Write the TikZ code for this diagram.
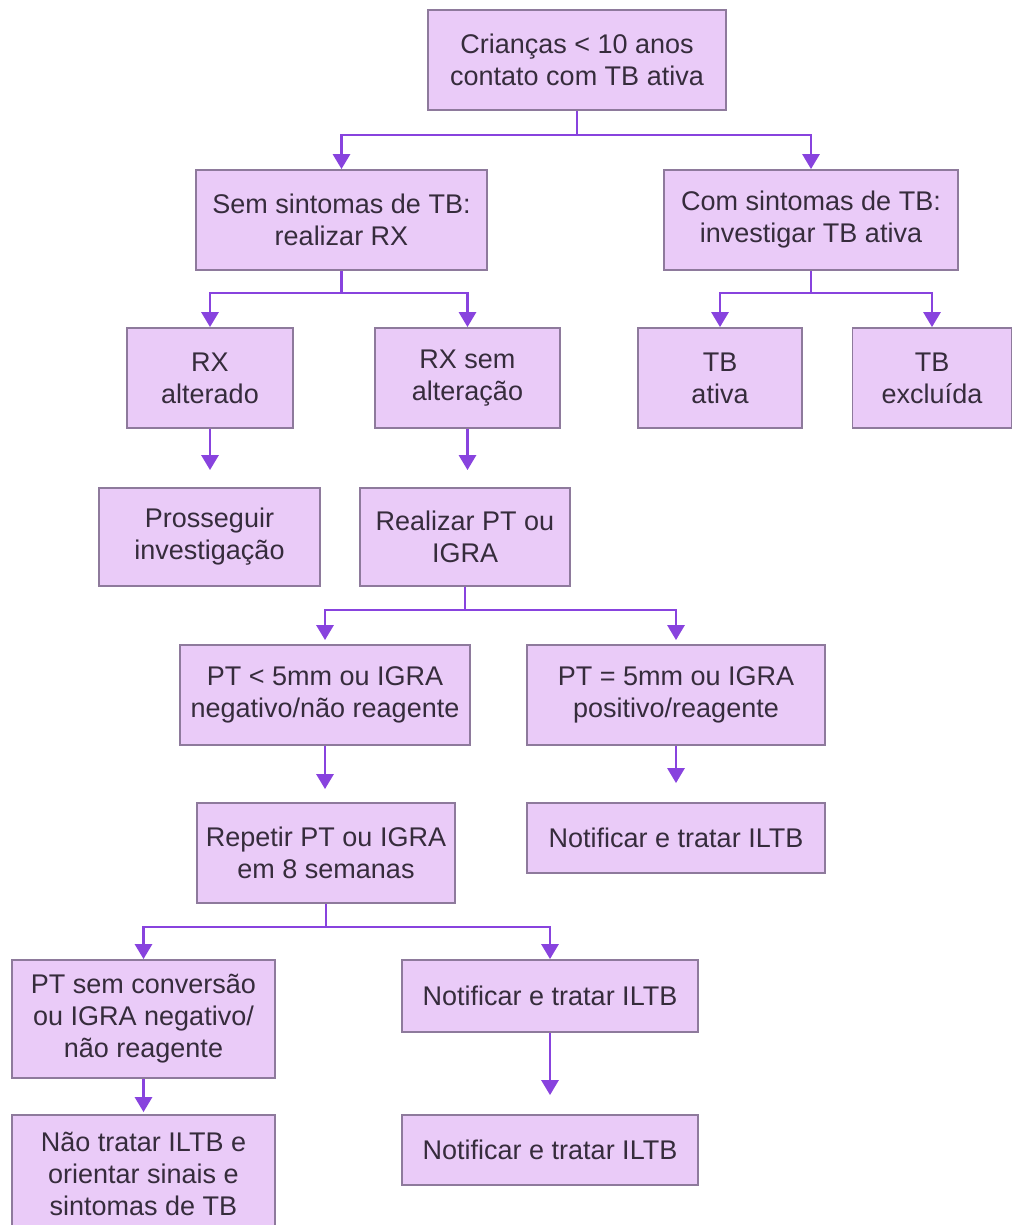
\documentclass[tikz,border=0pt]{standalone}
\usepackage{fontspec}
\setmainfont{Liberation Sans}
\usetikzlibrary{arrows.meta}
\definecolor{boxfill}{HTML}{EACBF8}
\definecolor{boxline}{HTML}{8E7A9C}
\definecolor{arrcol}{HTML}{8843DE}
\definecolor{txtcol}{HTML}{362C3C}
\begin{document}
\begin{tikzpicture}[x=1pt,y=-1pt,
  box/.style={draw=boxline, line width=1.8pt, fill=boxfill, align=center,
    text=txtcol, inner sep=0pt, font=\fontsize{27}{32}\selectfont},
  arr/.style={draw=arrcol, line width=2.8pt,
    -{Triangle[width=17pt,length=15pt]}},
  ln/.style={draw=arrcol, line width=2.8pt}]
\useasboundingbox (0,0) rectangle (1013,1225);
\fill[white] (0,0) rectangle (1013,1225);

\node[box, minimum width=298pt, minimum height=100pt] (top) at (577,60) {Crianças < 10 anos\\contato com TB ativa};
\node[box, minimum width=291pt, minimum height=100pt] (sem) at (341.5,220) {Sem sintomas de TB:\\realizar RX};
\node[box, minimum width=294pt, minimum height=100pt] (com) at (811,220) {Com sintomas de TB:\\investigar TB ativa};
\node[box, minimum width=166pt, minimum height=100pt] (rxalt) at (210,378) {RX\\alterado};
\node[box, minimum width=185pt, minimum height=100pt] (rxsem) at (467.5,378) {RX sem\\alteração};
\node[box, minimum width=164pt, minimum height=100pt] (tbat) at (720,378) {TB\\ativa};
\node[box, minimum width=159pt, minimum height=100pt] (tbex) at (932,378) {TB\\excluída};
\node[box, minimum width=221pt, minimum height=98pt] (pross) at (209.5,537) {Prosseguir\\investigação};
\node[box, minimum width=210pt, minimum height=98pt] (realiz) at (465,537) {Realizar PT ou\\IGRA};
\node[box, minimum width=290pt, minimum height=100pt] (ptneg) at (325,695) {PT < 5mm ou IGRA\\negativo/não reagente};
\node[box, minimum width=298pt, minimum height=100pt] (ptpos) at (676,695) {PT = 5mm ou IGRA\\positivo/reagente};
\node[box, minimum width=258pt, minimum height=100pt] (repet) at (326,853) {Repetir PT ou IGRA\\em 8 semanas};
\node[box, minimum width=298pt, minimum height=70pt] (notif1) at (676,838) {Notificar e tratar ILTB};
\node[box, minimum width=263pt, minimum height=118pt] (ptsem) at (143.5,1019) {PT sem conversão\\ou IGRA negativo/\\não reagente};
\node[box, minimum width=296pt, minimum height=72pt] (notif2) at (550,996) {Notificar e tratar ILTB};
\node[box, minimum width=296pt, minimum height=70pt] (notif3) at (550,1150) {Notificar e tratar ILTB};
\node[box, minimum width=263pt, minimum height=118pt] (naotr) at (143.5,1174) {Não tratar ILTB e\\orientar sinais e\\sintomas de TB};

% top fork
\coordinate (j1) at (577,135);
\draw[ln] (top.south) -- (j1);
\draw[arr] (j1) -| (sem.north);
\draw[arr] (j1) -| (com.north);
% sem fork
\coordinate (j2) at (341.5,293);
\draw[ln] (sem.south) -- (j2);
\draw[arr] (j2) -| (rxalt.north);
\draw[arr] (j2) -| (rxsem.north);
% com fork
\coordinate (j3) at (811,293);
\draw[ln] (com.south) -- (j3);
\draw[arr] (j3) -| (tbat.north);
\draw[arr] (j3) -| (tbex.north);
% straight
\draw[arr, shorten >=17pt] (rxalt.south) -- (rxalt.south |- pross.north);
\draw[arr, shorten >=17pt] (rxsem.south) -- (rxsem.south |- realiz.north);
% realiz fork
\coordinate (j4) at (465,610);
\draw[ln] (realiz.south) -- (j4);
\draw[arr, shorten >=4pt] (j4) -| (ptneg.north);
\draw[arr, shorten >=4pt] (j4) -| (ptpos.north);
\draw[arr, shorten >=13pt] (ptneg.south) -- (ptneg.south |- repet.north);
\draw[arr, shorten >=19pt] (ptpos.south) -- (ptpos.south |- notif1.north);
% repet fork
\coordinate (j5) at (326,927);
\draw[ln] (repet.south) -- (j5);
\draw[arr] (j5) -| (ptsem.north);
\draw[arr] (j5) -| (notif2.north);
\draw[arr, shorten >=19pt] (notif2.south) -- (notif3.north);
\draw[arr, shorten >=2pt] (ptsem.south) -- (naotr.north);
\end{tikzpicture}
\end{document}
